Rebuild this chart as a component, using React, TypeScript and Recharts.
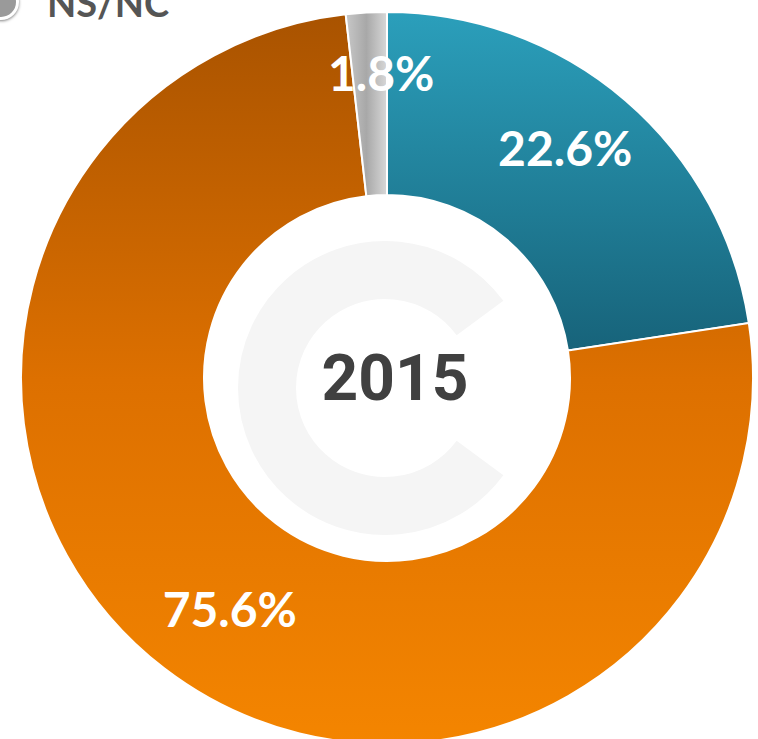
import React from "react";
import { PieChart, Pie, Cell, Legend } from "recharts";

const categories = ["Sí", "No", "NS/NC"];
const shares = [22.6, 75.6, 1.8];
const fills = ["url(#tealGrad)", "url(#orangeGrad)", "url(#grayGrad)"];
const yearLabel = "2015";
const legendItems = ["NS/NC"];

const data = categories.map((name, i) => ({ name, value: shares[i] }));

// small per-label nudges so the labels sit where the original placed them
const labelNudge = [
  { dx: -15, dy: -6 },
  { dx: 23, dy: -5 },
  { dx: 11, dy: -10 },
];

const CX = 387;
const CY = 378;
const RAD = Math.PI / 180;

const renderLabel = (props: any) => {
  const { cx, cy, midAngle, innerRadius, outerRadius, value, index } = props;
  const r = innerRadius + (outerRadius - innerRadius) * 0.62;
  const n = labelNudge[index] ?? { dx: 0, dy: 0 };
  const x = cx + r * Math.cos(-midAngle * RAD) + n.dx;
  const y = cy + r * Math.sin(-midAngle * RAD) + n.dy;
  return (
    <text
      x={x}
      y={y}
      fill="#ffffff"
      textAnchor="middle"
      dominantBaseline="central"
      style={{ fontFamily: "Lato, 'Open Sans', sans-serif", fontWeight: 700, fontSize: 48 }}
    >
      {`${value.toFixed(1)}%`}
    </text>
  );
};

const LegendContent = () => (
  <div style={{ display: "flex", alignItems: "center", gap: 28 }}>
    {legendItems.map((item) => (
      <React.Fragment key={item}>
        <div
          style={{
            width: 30,
            height: 30,
            borderRadius: "50%",
            background: "#9a9a9a",
            border: "3px solid #ffffff",
            boxShadow: "0 1px 3px rgba(0,0,0,0.5)",
          }}
        />
        <span
          style={{
            fontFamily: "Lato, 'Open Sans', sans-serif",
            fontWeight: 700,
            fontSize: 38,
            color: "#555555",
          }}
        >
          {item}
        </span>
      </React.Fragment>
    ))}
  </div>
);

export default function App() {
  return (
    <div style={{ position: "absolute", left: 0, top: 0, width: 758, height: 739, background: "#ffffff", overflow: "hidden" }}>
      <PieChart width={758} height={739} margin={{ top: 0, right: 0, bottom: 0, left: 0 }}>
        <defs>
          <linearGradient id="tealGrad" x1="0" y1="0" x2="0" y2="1">
            <stop offset="0%" stopColor="#2b9fbb" />
            <stop offset="100%" stopColor="#17637a" />
          </linearGradient>
          <linearGradient id="orangeGrad" x1="0" y1="0" x2="0" y2="1">
            <stop offset="0%" stopColor="#a95300" />
            <stop offset="50%" stopColor="#dd7000" />
            <stop offset="100%" stopColor="#f48500" />
          </linearGradient>
          <linearGradient id="grayGrad" x1="0" y1="0" x2="1" y2="0">
            <stop offset="0%" stopColor="#c8c8c8" />
            <stop offset="50%" stopColor="#a8a8a8" />
            <stop offset="100%" stopColor="#d8d8d8" />
          </linearGradient>
        </defs>
        {/* faint watermark behind the hole */}
        <path
          d="M 480 318 A 118 118 0 1 0 480 458"
          fill="none"
          stroke="#f5f5f5"
          strokeWidth={58}
        />
        <Pie
          data={data}
          dataKey="value"
          nameKey="name"
          cx={CX}
          cy={CY}
          innerRadius={183}
          outerRadius={366}
          startAngle={90}
          endAngle={-270}
          stroke="#ffffff"
          strokeWidth={2}
          label={renderLabel}
          labelLine={false}
          isAnimationActive={false}
        >
          {data.map((d, i) => (
            <Cell key={d.name} fill={fills[i]} />
          ))}
        </Pie>
        <text
          x={CX + 8}
          y={CY}
          textAnchor="middle"
          dominantBaseline="central"
          style={{ fontFamily: "Roboto, sans-serif", fontWeight: 700, fontSize: 64, fill: "#404040" }}
        >
          {yearLabel}
        </text>
        <Legend
          content={<LegendContent />}
          wrapperStyle={{ position: "absolute", left: -17, top: -21, width: 300 }}
        />
      </PieChart>
    </div>
  );
}
